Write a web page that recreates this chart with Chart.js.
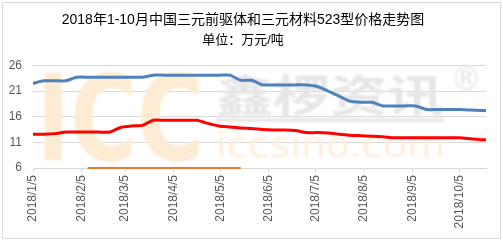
<!DOCTYPE html>
<html>
<head>
<meta charset="utf-8">
<script src="https://cdn.jsdelivr.net/npm/chart.js@4.4.1/dist/chart.umd.min.js"></script>
<style>
  html, body { margin: 0; padding: 0; background: #fff; }
  #wrap { width: 503px; height: 241px; }
</style>
</head>
<body>
<div id="wrap"><canvas id="priceChart" width="503" height="241"></canvas></div>
<script>
// 数据（周度，单位：万元/吨）
const dates = [
  '2018/1/5', '2018/1/12', '2018/1/19', '2018/1/26', '2018/2/2', '2018/2/9', '2018/2/16', '2018/2/23',
  '2018/3/2', '2018/3/9', '2018/3/16', '2018/3/23', '2018/3/30', '2018/4/6', '2018/4/13', '2018/4/20',
  '2018/4/27', '2018/5/4', '2018/5/11', '2018/5/18', '2018/5/25', '2018/6/1', '2018/6/8', '2018/6/15',
  '2018/6/22', '2018/6/29', '2018/7/6', '2018/7/13', '2018/7/20', '2018/7/27', '2018/8/3', '2018/8/10',
  '2018/8/17', '2018/8/24', '2018/8/31', '2018/9/7', '2018/9/14', '2018/9/21', '2018/9/28', '2018/10/5',
  '2018/10/12', '2018/10/19', '2018/10/22'
];

// 三元材料523
const materialPrices = [
  22.5, 23.0, 23.0, 23.0, 23.7, 23.7, 23.7, 23.7,
  23.7, 23.7, 23.7, 24.1, 24.1, 24.1, 24.1, 24.1,
  24.1, 24.1, 24.1, 23.1, 23.1, 22.2, 22.2, 22.2,
  22.2, 22.2, 21.9, 21.0, 20.0, 19.0, 18.8, 18.8,
  18.1, 18.1, 18.1, 18.1, 17.4, 17.4, 17.4, 17.4,
  17.3, 17.2, 17.2
];

// 三元前驱体523
const precursorPrices = [
  12.6, 12.6, 12.7, 13.0, 13.0, 13.0, 13.0, 13.0,
  13.9, 14.2, 14.3, 15.3, 15.3, 15.3, 15.3, 15.3,
  14.7, 14.2, 14.0, 13.8, 13.7, 13.5, 13.4, 13.4,
  13.3, 12.9, 12.9, 12.8, 12.6, 12.4, 12.3, 12.2,
  12.1, 11.9, 11.9, 11.9, 11.9, 11.9, 11.9, 11.9,
  11.7, 11.5, 11.5
];

// 橙色线（落在坐标轴下限处）
const otherPrices = [
  null, null, null, null, null, 6, 6, 6,
  6, 6, 6, 6, 6, 6, 6, 6,
  6, 6, 6, 6, null, null, null, null,
  null, null, null, null, null, null, null, null,
  null, null, null, null, null, null, null, null,
  null, null, null
];

const tickLabels = ['2018/1/5', '2018/2/5', '2018/3/5', '2018/4/5', '2018/5/5',
  '2018/6/5', '2018/7/5', '2018/8/5', '2018/9/5', '2018/10/5'];
const yTicks = [6, 11, 16, 21, 26];

const FONT = '"Liberation Sans", "Noto Sans CJK SC", sans-serif';

// 日期 -> 距1月5日的天数
function dayOf(s) {
  const p = s.split('/').map(Number);
  return (Date.UTC(p[0], p[1] - 1, p[2]) - Date.UTC(2018, 0, 5)) / 86400000;
}
const days = dates.map(dayOf);
const tickDays = tickLabels.map(dayOf);

const toPoints = arr => arr.map((v, i) => ({ x: days[i], y: v }));

// 背景、边框和水印
const decor = {
  id: 'decor',
  beforeDraw(chart) {
    const ctx = chart.ctx;
    ctx.save();
    ctx.fillStyle = '#fff';
    ctx.fillRect(0, 0, chart.width, chart.height);
    ctx.strokeStyle = '#d9d9d9';
    ctx.lineWidth = 1;
    ctx.strokeRect(2.5, 2.5, 498, 236);
    ctx.restore();
  },
  beforeDatasetsDraw(chart) {
    const ctx = chart.ctx;
    ctx.save();
    ctx.filter = 'blur(1px)';
    fitText(ctx, 'ICC', 'bold 119px "DejaVu Sans"', '#fdebd3', 36, 160, 168);
    fitText(ctx, '鑫椤资讯', 'bold 44px "Noto Sans CJK SC"', '#e6e6e6', 216, 112, 228);
    fitText(ctx, 'iccsino.com', '36px "DejaVu Sans"', '#fdeedb', 216, 157, 229);
    ctx.fillStyle = '#e8e8e8';
    ctx.fillRect(216, 118, 228, 4);
    fitText(ctx, '®', '34px "DejaVu Sans"', '#e4e4e4', 451, 90, 30);
    ctx.restore();
  }
};

function fitText(ctx, text, font, color, x, y, width) {
  ctx.font = font;
  const w = ctx.measureText(text).width;
  ctx.save();
  ctx.translate(x, y);
  ctx.scale(width / w, 1);
  ctx.fillStyle = color;
  ctx.textBaseline = 'alphabetic';
  ctx.fillText(text, 0, 0);
  ctx.restore();
}

new Chart(document.getElementById('priceChart'), {
  type: 'line',
  data: {
    datasets: [
      {
        label: '三元材料523',
        data: toPoints(materialPrices),
        borderColor: '#4f81bd',
        borderWidth: 3,
        pointRadius: 0,
        tension: 0.2,
        order: 1
      },
      {
        label: '三元前驱体523',
        data: toPoints(precursorPrices),
        borderColor: '#ff0000',
        borderWidth: 3,
        pointRadius: 0,
        tension: 0.2,
        order: 2
      },
      {
        label: '其他',
        data: toPoints(otherPrices),
        borderColor: '#e8782c',
        borderWidth: 2,
        pointRadius: 0,
        spanGaps: false,
        clip: false,
        order: 3
      }
    ]
  },
  options: {
    responsive: false,
    animation: false,
    layout: { padding: { left: 0, right: 17, top: 0, bottom: 0 } },
    plugins: {
      legend: { display: false },
      tooltip: { enabled: false },
      title: {
        display: true,
        text: '2018年1-10月中国三元前驱体和三元材料523型价格走势图',
        color: '#000',
        font: { family: FONT, size: 14, weight: 'normal' },
        padding: { top: 12, bottom: 2 }
      },
      subtitle: {
        display: true,
        text: '单位：万元/吨',
        color: '#000',
        font: { family: FONT, size: 13, weight: 'normal' },
        padding: { top: 2, bottom: 17 }
      }
    },
    scales: {
      x: {
        type: 'linear',
        min: 0,
        max: days[days.length - 1],
        afterBuildTicks: scale => { scale.ticks = tickDays.map(v => ({ value: v })); },
        afterFit: scale => { scale.height = 73; },
        grid: { drawOnChartArea: false, drawTicks: true, tickLength: 4, color: '#d9d9d9' },
        border: { display: true, color: '#d9d9d9' },
        ticks: {
          autoSkip: false,
          minRotation: 90,
          maxRotation: 90,
          padding: 3,
          color: '#595959',
          font: { family: FONT, size: 12 },
          callback: (v, i) => tickLabels[i]
        }
      },
      y: {
        min: 6,
        max: 26,
        afterBuildTicks: scale => { scale.ticks = yTicks.map(v => ({ value: v })); },
        afterFit: scale => { scale.width = 33; },
        grid: { color: '#d9d9d9', drawTicks: false },
        border: { display: false },
        ticks: {
          padding: 11,
          color: '#595959',
          font: { family: FONT, size: 12 }
        }
      }
    }
  },
  plugins: [decor]
});
</script>
</body>
</html>
